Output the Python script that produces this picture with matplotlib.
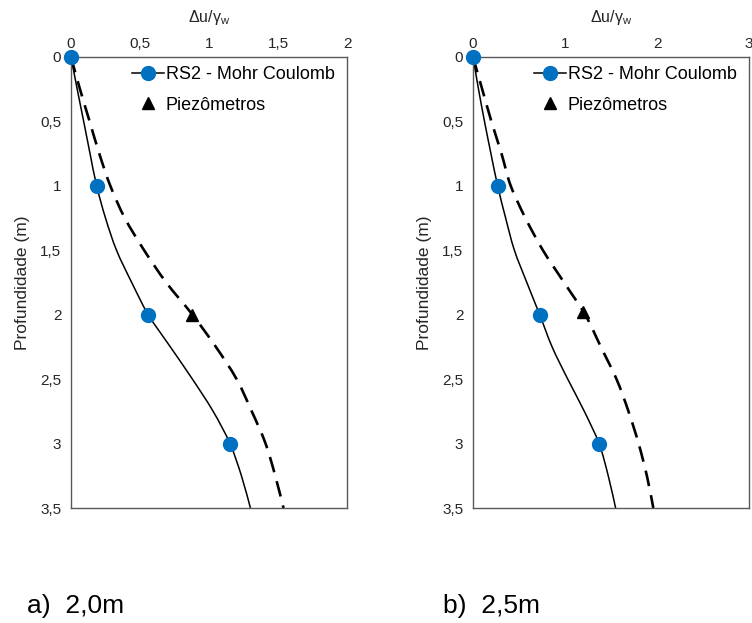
import numpy as np
import matplotlib
matplotlib.use("Agg")
import matplotlib.pyplot as plt
from matplotlib.path import Path
from matplotlib.patches import PathPatch
from matplotlib.lines import Line2D

plt.rcParams['font.family'] = ['Liberation Sans', 'DejaVu Sans']
plt.rcParams['mathtext.default'] = 'regular'

# profundidade (m) at which the curves were read
depth = [0, 0.25, 0.5, 0.75, 1, 1.25, 1.5, 1.75, 2, 2.25, 2.5, 2.75, 3, 3.25, 3.5]

# a) 2,0m
rs2_a = [0, 0.045, 0.092, 0.138, 0.186, 0.25, 0.33, 0.44, 0.56, 0.72, 0.88, 1.03, 1.152, 1.235, 1.30]
dash_a = [0, 0.065, 0.135, 0.205, 0.285, 0.39, 0.53, 0.69, 0.88, 1.05, 1.20, 1.31, 1.41, 1.48, 1.54]
piez_a_x = [0.88]
piez_a_y = [2.0]

# b) 2,5m
rs2_b = [0, 0.06, 0.125, 0.195, 0.268, 0.355, 0.45, 0.585, 0.725, 0.86, 1.03, 1.21, 1.37, 1.47, 1.55]
dash_b = [0, 0.10, 0.20, 0.31, 0.41, 0.57, 0.76, 0.99, 1.22, 1.39, 1.56, 1.69, 1.80, 1.89, 1.96]
piez_b_x = [1.20]
piez_b_y = [1.98]

y_ticks = [0, 0.5, 1, 1.5, 2, 2.5, 3, 3.5]
xticks_a = [0, 0.5, 1, 1.5, 2]
xticks_b = [0, 1, 2, 3]
captions = ["a)  2,0m", "b)  2,5m"]

blue = '#0070C0'
spine_col = '#595959'


def fmt(v):
    return ('%g' % v).replace('.', ',')


def smooth_path(xs, ys):
    # Catmull-Rom style bezier through the points, like a smoothed Excel line
    p = np.column_stack([xs, ys]).astype(float)
    n = len(p)
    verts = [p[0]]
    codes = [Path.MOVETO]
    for i in range(n - 1):
        p0 = p[i - 1] if i > 0 else p[i]
        p3 = p[i + 2] if i + 2 < n else p[i + 1]
        c1 = p[i] + (p[i + 1] - p0) / 6
        c2 = p[i + 1] - (p3 - p[i]) / 6
        verts += [c1, c2, p[i + 1]]
        codes += [Path.CURVE4] * 3
    return Path(verts, codes)


def draw_panel(ax, rs2, dash, px, py, xticks):
    ax.add_patch(PathPatch(smooth_path(dash, depth), fill=False, edgecolor='black',
                           lw=1.9, linestyle=(0, (6, 3.5)), zorder=2))
    ax.add_patch(PathPatch(smooth_path(rs2, depth), fill=False, edgecolor='black',
                           lw=1.1, zorder=2))
    ax.plot(rs2[::4], depth[::4], linestyle='none', marker='o', markersize=10,
            color=blue, clip_on=False, zorder=3)
    ax.plot(px, py, linestyle='none', marker='^', markersize=8, color='black', zorder=4)
    ax.set_xlim(0, xticks[-1])
    ax.set_ylim(3.5, 0)
    ax.xaxis.tick_top()
    ax.xaxis.set_label_position('top')
    ax.set_xticks(xticks)
    ax.set_xticklabels([fmt(v) for v in xticks], fontsize=11)
    ax.set_yticks(y_ticks)
    ax.set_yticklabels([fmt(v) for v in y_ticks], fontsize=11)
    ax.tick_params(axis='x', length=0, pad=4, colors='#262626')
    ax.tick_params(axis='y', length=0, pad=7, colors='#262626')
    for s in ax.spines.values():
        s.set_color(spine_col)
        s.set_linewidth(1.0)
    ax.set_xlabel('Δu/γ$_w$', fontsize=11.5, labelpad=11, color='#262626')
    ax.set_ylabel('Profundidade (m)', fontsize=12.5, labelpad=7, color='#262626')
    handles = [Line2D([], [], color='black', lw=1.1, marker='o', markersize=10,
                      markerfacecolor=blue, markeredgecolor=blue),
               Line2D([], [], linestyle='none', marker='^', markersize=8, color='black')]
    ax.legend(handles, ['RS2 - Mohr Coulomb', 'Piezômetros'], loc='upper left',
              bbox_to_anchor=(0.19, 1.0), frameon=False, fontsize=13,
              handlelength=1.75, handletextpad=0.1, borderaxespad=0.1,
              labelspacing=0.75)


fig = plt.figure(figsize=(7.52, 6.23), dpi=100)
ax1 = fig.add_axes([71 / 752, 115 / 623, 276 / 752, 451 / 623])
ax2 = fig.add_axes([473 / 752, 115 / 623, 276 / 752, 451 / 623])

draw_panel(ax1, rs2_a, dash_a, piez_a_x, piez_a_y, xticks_a)
draw_panel(ax2, rs2_b, dash_b, piez_b_x, piez_b_y, xticks_b)

fig.text(27 / 752, 1 - 606 / 623, captions[0], fontsize=19, va='center', ha='left')
fig.text(443 / 752, 1 - 606 / 623, captions[1], fontsize=19, va='center', ha='left')

fig.savefig('out.png', dpi=100)
